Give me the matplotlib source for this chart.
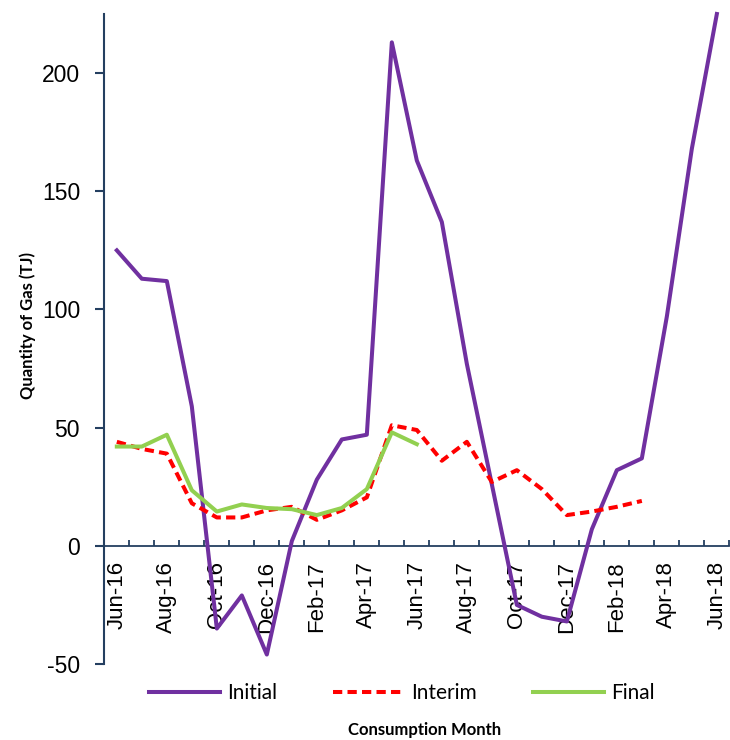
import numpy as np
import matplotlib
matplotlib.use('Agg')
import matplotlib.pyplot as plt

plt.rcParams['axes.unicode_minus'] = False

months = ['Jun-16', 'Jul-16', 'Aug-16', 'Sep-16', 'Oct-16', 'Nov-16', 'Dec-16',
          'Jan-17', 'Feb-17', 'Mar-17', 'Apr-17', 'May-17', 'Jun-17', 'Jul-17',
          'Aug-17', 'Sep-17', 'Oct-17', 'Nov-17', 'Dec-17', 'Jan-18', 'Feb-18',
          'Mar-18', 'Apr-18', 'May-18', 'Jun-18']
initial = [125, 113, 112, 59, -35, -21, -46, 2, 28, 45, 47, 213, 163, 137,
           77, 26, -25, -30, -32, 7, 32, 37, 97, 168, 225]
interim = [44, 41, 39, 18, 12, 12, 15, 16.5, 11, 15, 20.5, 51, 49, 36,
           44, 27, 32, 24, 13, 14.5, 16.5, 19]
final = [42, 42, 47, 23.5, 14.5, 17.5, 16, 15.5, 13, 16, 24, 48, 43]

navy = '#243F60'

fig = plt.figure(figsize=(7.3, 7.4), dpi=100)
ax = fig.add_axes([0.1429, 0.1027, 0.8562, 0.8784])

l1, = ax.plot(range(len(initial)), initial, color='#7030A0', lw=2.9,
              zorder=3, clip_on=False, solid_joinstyle='round')
l2, = ax.plot(range(len(interim)), interim, color='#FF0000', lw=2.9,
              dashes=(2.3, 1.3), zorder=4, clip_on=False)
l3, = ax.plot(range(len(final)), final, color='#92D050', lw=2.9,
              zorder=5, clip_on=False)

ax.set_xlim(-0.5, len(months) - 0.5)
ax.set_ylim(-50, 225)
ax.set_yticks([-50, 0, 50, 100, 150, 200])

for s in ['top', 'right']:
    ax.spines[s].set_visible(False)
ax.spines['bottom'].set_position(('data', 0))
ax.spines['bottom'].set_color(navy)
ax.spines['bottom'].set_linewidth(1.3)
ax.spines['left'].set_color(navy)
ax.spines['left'].set_linewidth(1.5)

ax.set_xticks(np.arange(-0.5, len(months), 1))
ax.set_xticklabels([])
ax.set_xticks(range(0, len(months), 2), [months[i] for i in range(0, len(months), 2)],
              minor=True)
ax.tick_params(axis='x', which='major', direction='in', length=4, width=1.3, color=navy)
ax.tick_params(axis='x', which='minor', length=0, pad=11, labelsize=16)
for lab in ax.get_xticklabels(minor=True):
    lab.set_rotation(90)
    lab.set_family('Liberation Sans')
ax.tick_params(axis='y', direction='out', length=6.5, width=1.5, color=navy,
               pad=11, labelsize=16.5)
for lab in ax.get_yticklabels():
    lab.set_family('Liberation Sans')

fig.text(28 / 730, 1 - 325 / 740, 'Quantity of Gas (TJ)', rotation=90,
         ha='center', va='center', fontsize=12, fontweight='bold', family='Lato')
fig.text(425 / 730, 1 - 730 / 740, 'Consumption Month', ha='center', va='center',
         fontsize=12, fontweight='bold', family='Lato')

fig.legend([l1, l2, l3], ['Initial', 'Interim', 'Final'], loc='center',
           bbox_to_anchor=(402 / 730, 1 - 693 / 740), ncol=3, frameon=False,
           prop={'family': 'Lato', 'size': 15}, handlelength=3.4,
           handletextpad=0.35, columnspacing=2.7)

fig.savefig('out.png', dpi=100)
